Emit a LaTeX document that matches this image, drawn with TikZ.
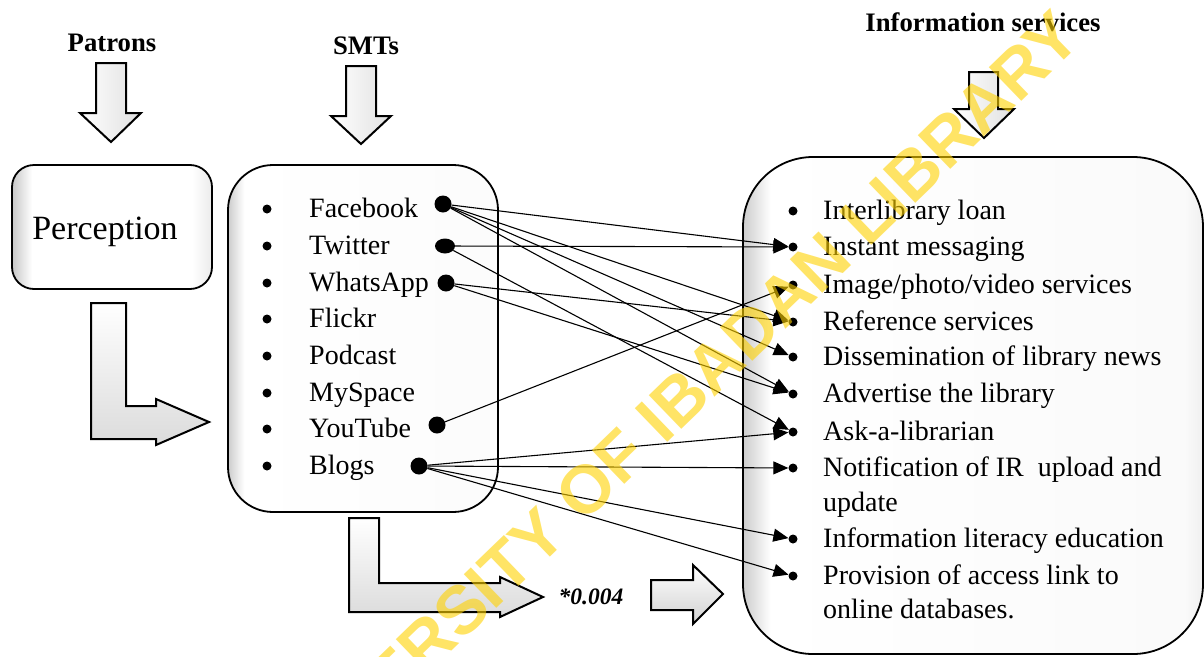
\documentclass[tikz,border=0pt]{standalone}
\usepackage{fontspec}
\setmainfont{Liberation Serif}
\newfontfamily\wmfont{Liberation Sans}
\usetikzlibrary{arrows.meta,shapes.geometric}
\definecolor{wmyellow}{RGB}{255,210,0}
\pgfdeclarehorizontalshading{percshade}{100bp}{color(0bp)=(black!22); color(25bp)=(black!22); color(30bp)=(white); color(70bp)=(white); color(75bp)=(black!8); color(100bp)=(black!8)}
\pgfdeclarehorizontalshading{smtshade}{100bp}{color(0bp)=(black!20); color(25bp)=(black!20); color(28bp)=(white); color(100bp)=(black!2)}
\pgfdeclarehorizontalshading{infoshade}{100bp}{color(0bp)=(black!20); color(25bp)=(black!20); color(28bp)=(white); color(73bp)=(black!2); color(75bp)=(black!6); color(100bp)=(black!6)}
\tikzset{
  boxframe/.style={draw=black, line width=1.8pt, inner sep=0pt},
  blockarr/.style={draw=black, line width=2pt, line join=miter},
  srcdot/.style={circle, fill=black, inner sep=0pt, minimum size=17pt},
  listbullet/.style={circle, fill=black, inner sep=0pt, minimum size=9pt},
  item/.style={anchor=base west, inner sep=0pt, font=\fontsize{28}{34}\selectfont},
  heading/.style={anchor=base, inner sep=0pt, font=\bfseries\fontsize{26.7}{30}\selectfont},
  conn/.style={line width=1.1pt, -{Triangle[length=15pt,width=13pt]}},
  watermark/.style={inner sep=0pt, rotate=44, text=wmyellow, opacity=0.6, font=\wmfont\bfseries\fontsize{68}{68}\selectfont}
}
\begin{document}
\begin{tikzpicture}[x=1pt,y=-1pt]
\useasboundingbox (0,0) rectangle (1204,656);
\fill[white] (0,0) rectangle (1204,656);

% headings
\node[heading] (patrons) at (112,51) {Patrons};
\node[heading] (smts) at (366,54) {SMTs};
\node[heading] (infos) at (983,31) {Information services};

% down block arrows
\draw[blockarr, left color=white, right color=black!12] (96,63) -- (126,63) -- (126,113) -- (141,113) -- (111,142) -- (80,113) -- (96,113) -- cycle;
\draw[blockarr, left color=white, right color=black!12] (346,66) -- (376,66) -- (376,116) -- (391,116) -- (361,144) -- (331,116) -- (346,116) -- cycle;
\draw[blockarr, left color=white, right color=black!12] (969,72) -- (998,72) -- (998,109) -- (1014,109) -- (984,138) -- (954,109) -- (969,109) -- cycle;

% boxes
\node[boxframe, rounded corners=22pt, minimum width=200pt, minimum height=124pt, shading=percshade] (percbox) at (112,227) {};
\node[anchor=base, inner sep=0pt, font=\fontsize{34}{40}\selectfont] (perc) at (105,239) {Perception};
\node[boxframe, rounded corners=45pt, minimum width=270pt, minimum height=347pt, shading=smtshade] (smtbox) at (363,338.5) {};
\node[boxframe, rounded corners=70pt, minimum width=460pt, minimum height=497pt, shading=infoshade] (infobox) at (973,405.5) {};

% L-shaped and small block arrows
\draw[blockarr, top color=white, bottom color=black!14] (91,303) -- (126,303) -- (126,406) -- (156,406) -- (156,399) -- (209,422) -- (156,445) -- (156,439) -- (91,439) -- cycle;
\draw[blockarr, top color=white, bottom color=black!14] (349,518) -- (379,518) -- (379,583) -- (500,583) -- (500,577) -- (543,597) -- (500,617) -- (500,612) -- (349,612) -- cycle;
\node[anchor=base, inner sep=0pt, font=\bfseries\itshape\fontsize{23.5}{28}\selectfont] (pval) at (591,604) {*0.004};
\draw[blockarr, top color=white, bottom color=black!18] (651,580) -- (693,580) -- (693,565) -- (723,594) -- (693,624) -- (693,610) -- (651,610) -- cycle;

% SMT list
\foreach \nm/\yy/\txt in {fbb/209/Facebook, twb/246/Twitter, wab/283/WhatsApp, flb/319/Flickr, pdb/356/Podcast, msb/393/MySpace, ytb/429/YouTube, blb/466/Blogs}{
  \node[listbullet] (\nm) at (267,\yy) {};
  \node[item] (\nm-t) at (309,\yy+8) {\txt};
}

% source dots
\node[srcdot] (fb) at (443,204) {};
\node[srcdot, ellipse, minimum width=20pt, minimum height=15pt] (tw) at (445,246) {};
\node[srcdot] (wa) at (446,283) {};
\node[srcdot] (yt) at (437,425) {};
\node[srcdot] (bl) at (419,466) {};

% services list
\foreach \nm/\yy/\txt in {il/211/{Interlibrary loan}, im/247/{Instant messaging}, ip/285/{Image/photo/video services}, rs/322/{Reference services}, dn/357/{Dissemination of library news}, al/394/{Advertise the library}, ak/432/{Ask-a-librarian}, nf/468/{Notification of IR\ \ upload and}, ile/539/{Information literacy education}, pa/576/{Provision of access link to}}{
  \node[listbullet] (\nm) at (793,\yy) {};
  \node[item] (\nm-t) at (823,\yy+8) {\txt};
}
\node[item] (nf-t2) at (823,511) {update};
\node[item] (pa-t2) at (823,618) {online databases.};

% connectors
\draw[conn] (fb) -- (im);
\draw[conn] (fb) -- (rs);
\draw[conn] (fb) -- (dn);
\draw[conn] (fb) -- (al);
\draw[conn] (tw) -- (im);
\draw[conn] (tw) -- (ak);
\draw[conn] (wa) -- (rs);
\draw[conn] (wa) -- (al);
\draw[conn] (yt) -- (ip);
\draw[conn] (bl) -- (ak);
\draw[conn] (bl) -- (nf);
\draw[conn] (bl) -- (ile);
\draw[conn] (bl) -- (pa);

% watermark
\node[watermark] (wm) at (664,414) {UNIVERSITY OF IBADAN LIBRARY};
\end{tikzpicture}
\end{document}
